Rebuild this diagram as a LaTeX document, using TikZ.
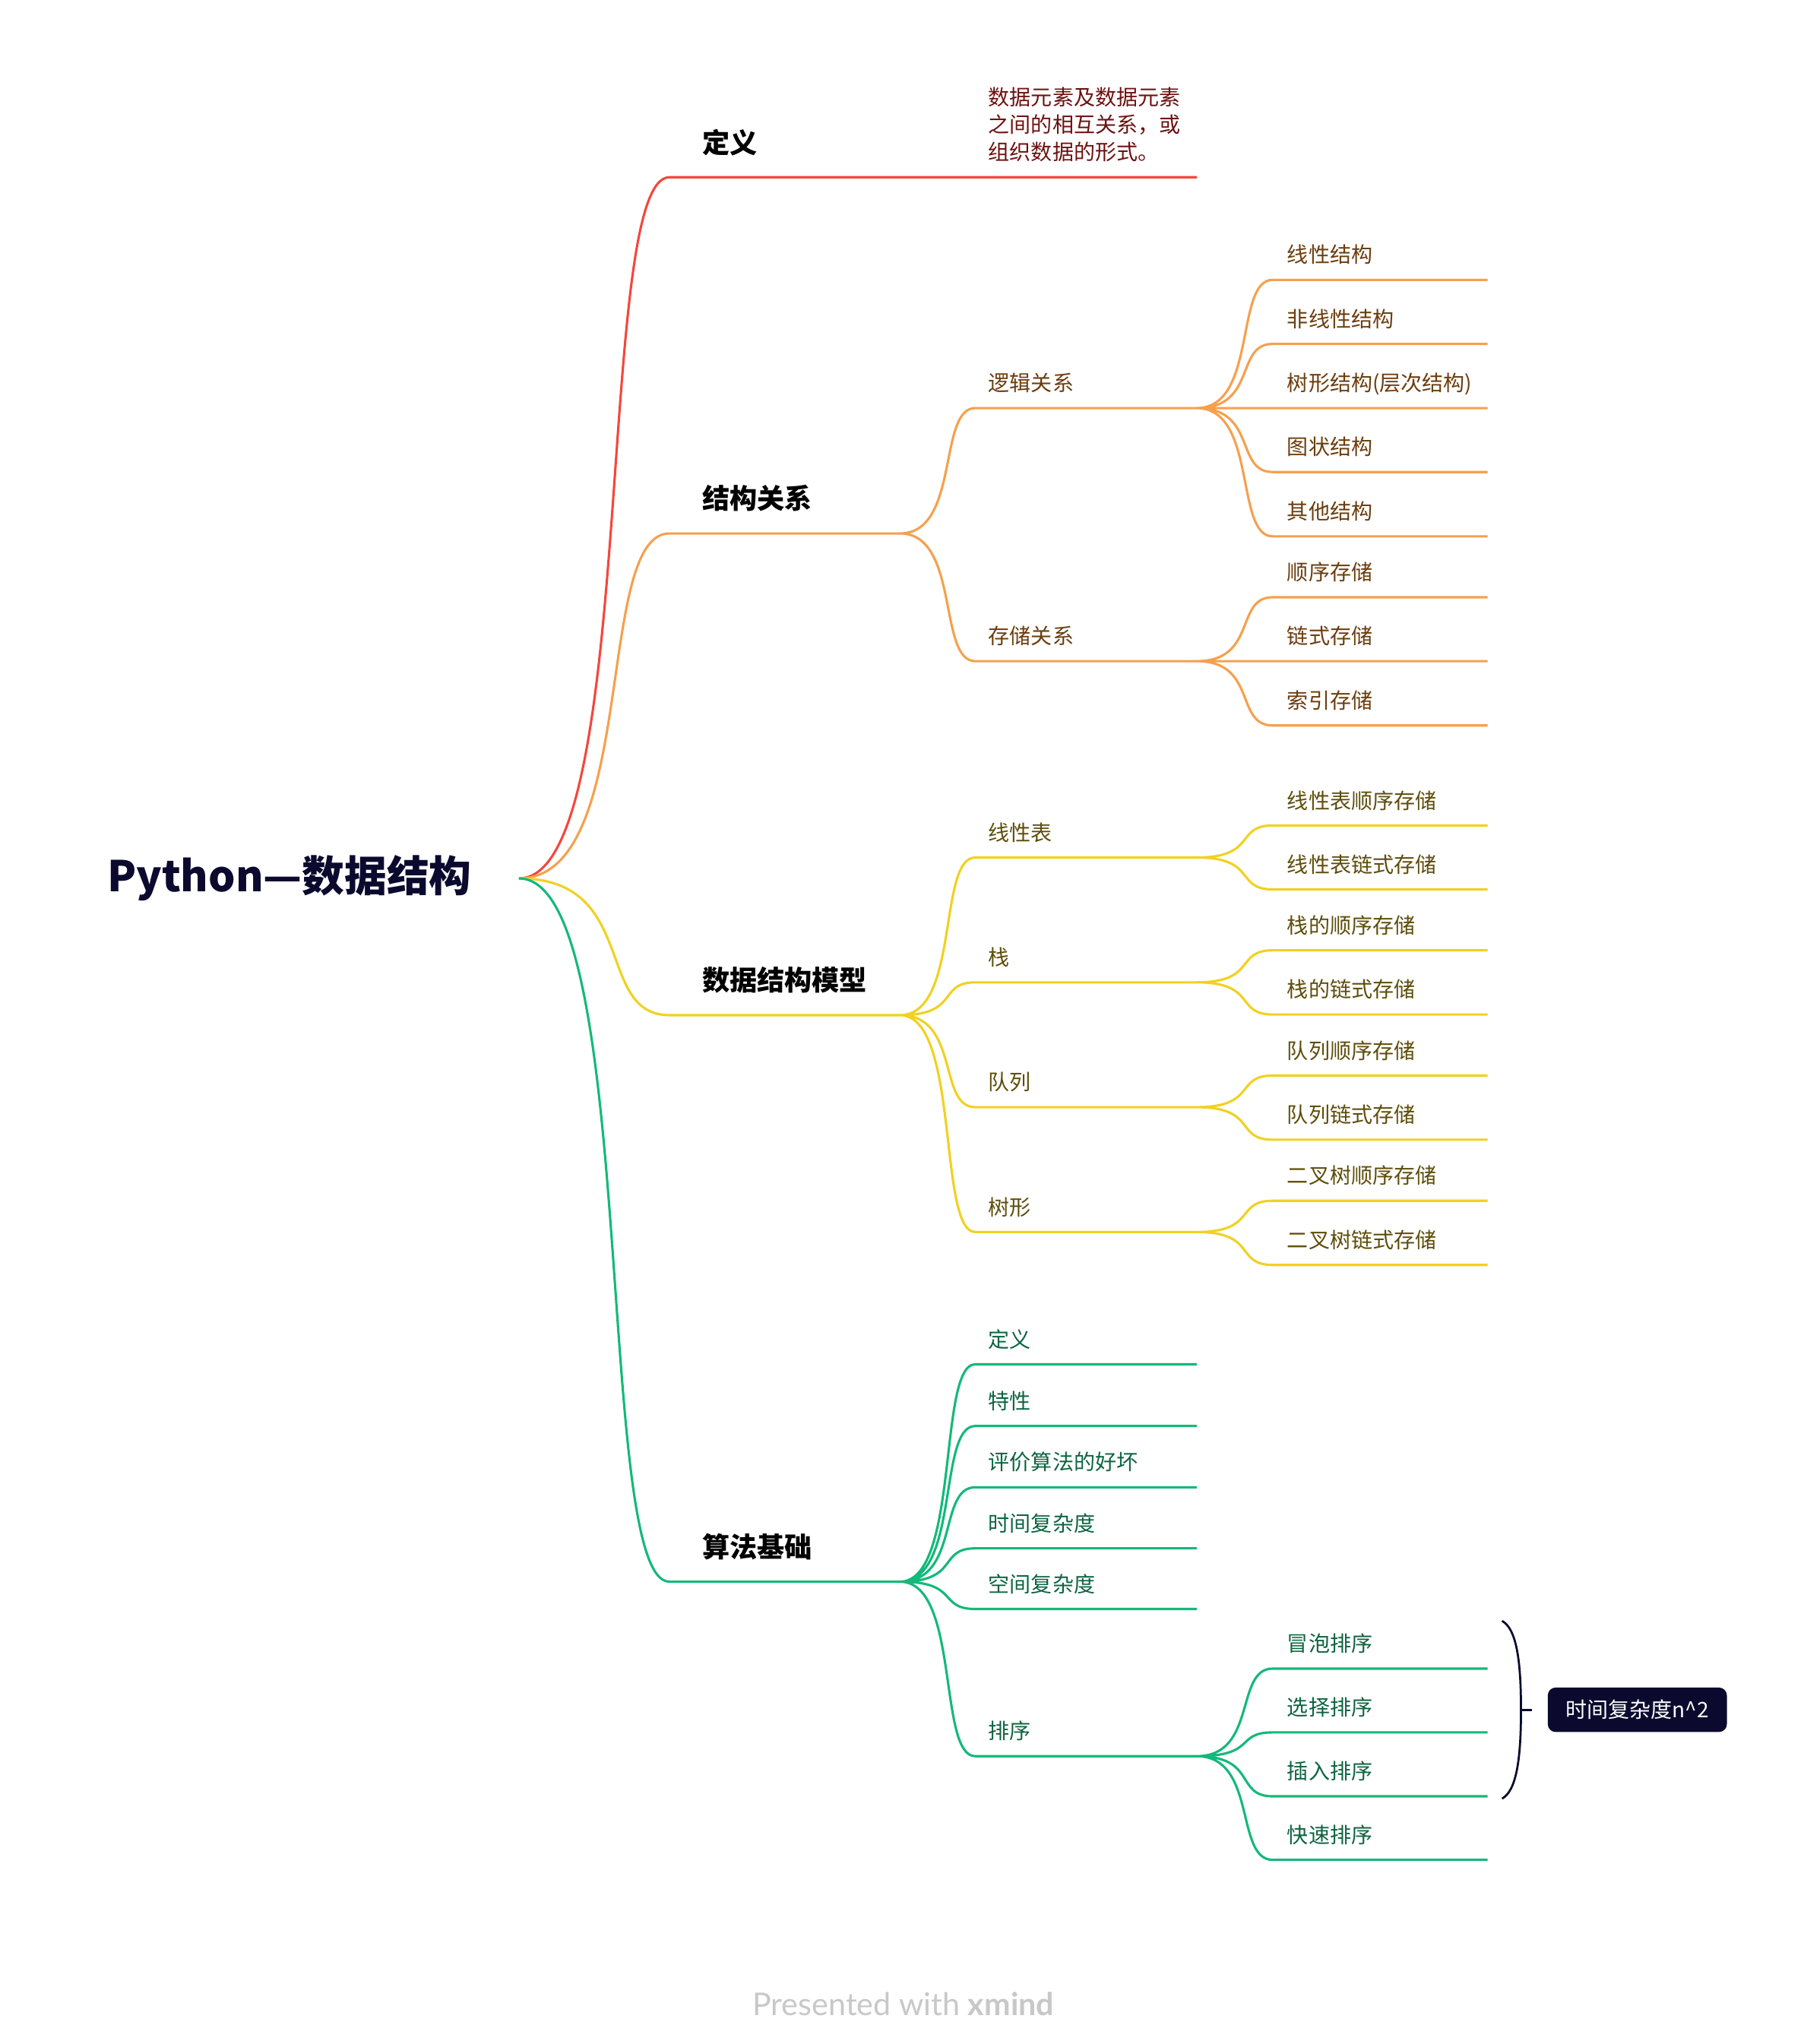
\documentclass[tikz,border=0pt]{standalone}
\usepackage{fontspec}
\setmainfont{Noto Sans CJK SC}
\newfontfamily\markfont{Lato}
\usetikzlibrary{calc}

\definecolor{brRed}{HTML}{F4473D}
\definecolor{brOrange}{HTML}{F6A04D}
\definecolor{brYellow}{HTML}{F1D121}
\definecolor{brGreen}{HTML}{13B97A}
\definecolor{txRed}{HTML}{6E1111}
\definecolor{txOrange}{HTML}{6B3D0E}
\definecolor{txYellow}{HTML}{5E4D0A}
\definecolor{txGreen}{HTML}{0D6440}
\definecolor{rootNavy}{HTML}{0B0A2E}
\definecolor{markGray}{HTML}{C8C8C8}

\begin{document}
\begin{tikzpicture}[x=1pt, y=-1pt,
    rootTopic/.style={anchor=east, inner xsep=36pt, text=rootNavy,
        font=\bfseries\fontsize{32.4}{38}\selectfont},
    mainTopic/.style={anchor=south west, align=left, text width=126pt,
        inner xsep=25pt, inner ysep=14pt, text height=16pt, text depth=4.5pt,
        font=\bfseries\fontsize{21}{25}\selectfont},
    subTopic/.style={anchor=south west, align=left, text width=149pt,
        inner xsep=10pt, inner ysep=9.3pt, text height=12pt, text depth=3.5pt,
        font=\fontsize{16.3}{21}\selectfont},
    leafTopic/.style={subTopic, text width=142pt, inner xsep=11pt},
    branch/.style={to path={.. controls ($(\tikztostart)!.8!(\tikztotarget |- \tikztostart)$)
        and ($(\tikztotarget)!.5!(\tikztostart |- \tikztotarget)$) .. (\tikztotarget)}},
    redLine/.style={draw=brRed, line width=1.8pt},
    orangeLine/.style={draw=brOrange, line width=1.8pt},
    yellowLine/.style={draw=brYellow, line width=1.8pt},
    greenLine/.style={draw=brGreen, line width=1.8pt},
    braceLine/.style={draw=rootNavy, line width=1.6pt},
    sumTopic/.style={rounded corners=6pt, fill=rootNavy, text=white,
        minimum width=137pt, minimum height=34pt, inner sep=0pt,
        font=\fontsize{16.3}{20}\selectfont},
    markText/.style={anchor=base, text=markGray, font=\markfont\fontsize{24}{28}\selectfont}]

    \path[fill=white, use as bounding box] (0,0) rectangle (1380,1563.7);

    % root and main topics
    \node[rootTopic] (root) at (397,672) {Python—数据结构};
    \node[mainTopic] (defn) at (512,135.6) {定义};
    \node[mainTopic] (struct) at (512,408.1) {结构关系};
    \node[mainTopic] (model) at (512,776.6) {数据结构模型};
    \node[mainTopic] (algo) at (512,1210) {算法基础};

    % second level
    \node[subTopic, text=txRed, text depth=45.5pt] (defdesc) at (746,135.6) {数据元素及数据元素\\之间的相互关系，或\\组织数据的形式。};
    \node[subTopic, text=txOrange] (logic) at (746,312.2) {逻辑关系};
    \node[subTopic, text=txOrange] (storage) at (746,505.8) {存储关系};
    \node[subTopic, text=txYellow] (linList) at (746,656) {线性表};
    \node[subTopic, text=txYellow] (stack) at (746,751.5) {栈};
    \node[subTopic, text=txYellow] (queue) at (746,847) {队列};
    \node[subTopic, text=txYellow] (tree) at (746,942.5) {树形};
    \node[subTopic, text=txGreen] (aDef) at (746,1043.7) {定义};
    \node[subTopic, text=txGreen] (aProp) at (746,1090.9) {特性};
    \node[subTopic, text=txGreen] (aJudge) at (746,1137.8) {评价算法的好坏};
    \node[subTopic, text=txGreen] (aTime) at (746,1184.5) {时间复杂度};
    \node[subTopic, text=txGreen] (aSpace) at (746,1230.9) {空间复杂度};
    \node[subTopic, text=txGreen] (sort) at (746,1343.5) {排序};

    % third level
    \node[leafTopic, text=txOrange] (linS) at (973.5,214.1) {线性结构};
    \node[leafTopic, text=txOrange] (nonlinS) at (973.5,263.1) {非线性结构};
    \node[leafTopic, text=txOrange] (treeS) at (973.5,312.2) {树形结构(层次结构)};
    \node[leafTopic, text=txOrange] (graphS) at (973.5,361.1) {图状结构};
    \node[leafTopic, text=txOrange] (otherS) at (973.5,410.3) {其他结构};
    \node[leafTopic, text=txOrange] (seqSt) at (973.5,456.9) {顺序存储};
    \node[leafTopic, text=txOrange] (linkSt) at (973.5,505.8) {链式存储};
    \node[leafTopic, text=txOrange] (idxSt) at (973.5,555) {索引存储};
    \node[leafTopic, text=txYellow] (lstSeq) at (973.5,631.5) {线性表顺序存储};
    \node[leafTopic, text=txYellow] (lstLink) at (973.5,680.4) {线性表链式存储};
    \node[leafTopic, text=txYellow] (stkSeq) at (973.5,727) {栈的顺序存储};
    \node[leafTopic, text=txYellow] (stkLink) at (973.5,776.1) {栈的链式存储};
    \node[leafTopic, text=txYellow] (queSeq) at (973.5,822.8) {队列顺序存储};
    \node[leafTopic, text=txYellow] (queLink) at (973.5,871.9) {队列链式存储};
    \node[leafTopic, text=txYellow] (btSeq) at (973.5,918.6) {二叉树顺序存储};
    \node[leafTopic, text=txYellow] (btLink) at (973.5,967.7) {二叉树链式存储};
    \node[leafTopic, text=txGreen] (bubble) at (973.5,1276.5) {冒泡排序};
    \node[leafTopic, text=txGreen] (select) at (973.5,1325.3) {选择排序};
    \node[leafTopic, text=txGreen] (insert) at (973.5,1374.2) {插入排序};
    \node[leafTopic, text=txGreen] (quick) at (973.5,1422.8) {快速排序};

    % summary
    \node[sumTopic] (sumbox) at (1252.5,1308) {时间复杂度n\^{}2};
    \coordinate (bt) at (1149,1240);
    \coordinate (bm) at (1163.5,1308);
    \coordinate (bb) at (1149,1376);

    \node[markText] (wm) at (691,1542) {Presented with \textbf{xmind}};

    % red branch
    \draw[redLine] (root.east) to[branch] (defn.south west) -- (defn.south east)
        to[branch] (defdesc.south west) -- (defdesc.south east);

    % orange branch
    \draw[orangeLine] (root.east) to[branch] (struct.south west) -- (struct.south east);
    \draw[orangeLine] (struct.south east) to[branch] (logic.south west) -- (logic.south east)
        (struct.south east) to[branch] (storage.south west) -- (storage.south east);
    \draw[orangeLine] (logic.south east) to[branch] (linS.south west) -- (linS.south east)
        (logic.south east) to[branch] (nonlinS.south west) -- (nonlinS.south east)
        (logic.south east) to[branch] (treeS.south west) -- (treeS.south east)
        (logic.south east) to[branch] (graphS.south west) -- (graphS.south east)
        (logic.south east) to[branch] (otherS.south west) -- (otherS.south east);
    \draw[orangeLine] (storage.south east) to[branch] (seqSt.south west) -- (seqSt.south east)
        (storage.south east) to[branch] (linkSt.south west) -- (linkSt.south east)
        (storage.south east) to[branch] (idxSt.south west) -- (idxSt.south east);

    % yellow branch
    \draw[yellowLine] (root.east) to[branch] (model.south west) -- (model.south east);
    \draw[yellowLine] (model.south east) to[branch] (linList.south west) -- (linList.south east)
        (model.south east) to[branch] (stack.south west) -- (stack.south east)
        (model.south east) to[branch] (queue.south west) -- (queue.south east)
        (model.south east) to[branch] (tree.south west) -- (tree.south east);
    \draw[yellowLine] (linList.south east) to[branch] (lstSeq.south west) -- (lstSeq.south east)
        (linList.south east) to[branch] (lstLink.south west) -- (lstLink.south east);
    \draw[yellowLine] (stack.south east) to[branch] (stkSeq.south west) -- (stkSeq.south east)
        (stack.south east) to[branch] (stkLink.south west) -- (stkLink.south east);
    \draw[yellowLine] (queue.south east) to[branch] (queSeq.south west) -- (queSeq.south east)
        (queue.south east) to[branch] (queLink.south west) -- (queLink.south east);
    \draw[yellowLine] (tree.south east) to[branch] (btSeq.south west) -- (btSeq.south east)
        (tree.south east) to[branch] (btLink.south west) -- (btLink.south east);

    % green branch
    \draw[greenLine] (root.east) to[branch] (algo.south west) -- (algo.south east);
    \draw[greenLine] (algo.south east) to[branch] (aDef.south west) -- (aDef.south east)
        (algo.south east) to[branch] (aProp.south west) -- (aProp.south east)
        (algo.south east) to[branch] (aJudge.south west) -- (aJudge.south east)
        (algo.south east) to[branch] (aTime.south west) -- (aTime.south east)
        (algo.south east) to[branch] (aSpace.south west) -- (aSpace.south east)
        (algo.south east) to[branch] (sort.south west) -- (sort.south east);
    \draw[greenLine] (sort.south east) to[branch] (bubble.south west) -- (bubble.south east)
        (sort.south east) to[branch] (select.south west) -- (select.south east)
        (sort.south east) to[branch] (insert.south west) -- (insert.south east)
        (sort.south east) to[branch] (quick.south west) -- (quick.south east);

    % summary brace
    \draw[braceLine] (bt) .. controls (1160,1246) and (1163.5,1270) .. (bm)
        .. controls (1163.5,1346) and (1160,1370) .. (bb);
    \draw[braceLine, shorten >=12pt] (bm) -- (sumbox.west);
\end{tikzpicture}
\end{document}
